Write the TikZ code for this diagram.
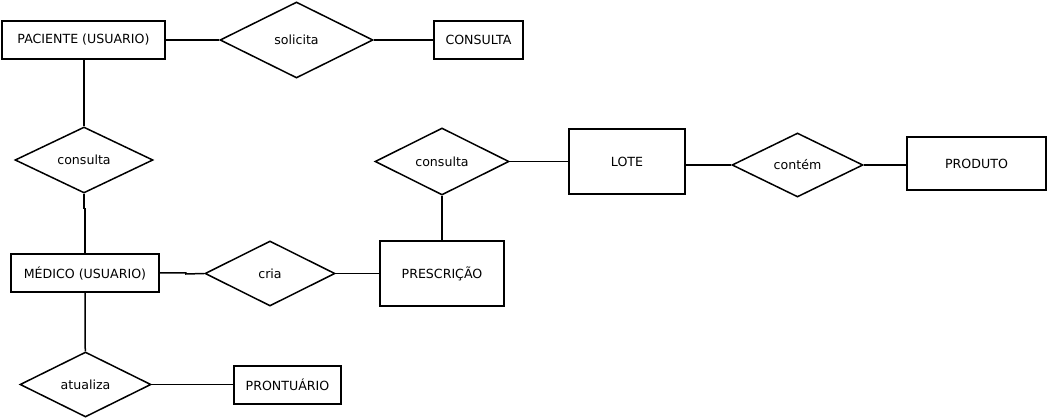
\documentclass[tikz,border=0pt]{standalone}
\usepackage{fontspec}
\setmainfont{DejaVu Sans}
\usetikzlibrary{shapes.geometric}
\tikzset{
  ent/.style={draw, line width=1.5pt, rectangle, inner sep=0pt, font=\fontsize{12.6}{15}\selectfont},
  rel/.style={draw, line width=1.5pt, diamond, inner sep=0pt, font=\fontsize{12.6}{15}\selectfont},
  conn/.style={line width=1.5pt},
}
\begin{document}
\begin{tikzpicture}[x=1pt,y=-1pt]
\useasboundingbox (0,0) rectangle (1047,419);
% entities
\node[ent, minimum width=163pt, minimum height=38pt] (pac) at (83.5,40) {PACIENTE (USUARIO)};
\node[ent, minimum width=89pt, minimum height=38pt] (cons) at (478.5,40) {CONSULTA};
\node[ent, minimum width=148pt, minimum height=38pt] (med) at (85,273) {MÉDICO (USUARIO)};
\node[ent, minimum width=124pt, minimum height=65pt] (presc) at (442,273.5) {PRESCRIÇÃO};
\node[ent, minimum width=116pt, minimum height=65pt] (lote) at (627,161.5) {LOTE};
\node[ent, minimum width=139pt, minimum height=53pt] (prod) at (976.5,163.5) {PRODUTO};
\node[ent, minimum width=107pt, minimum height=38pt] (pront) at (287.5,385) {PRONTUÁRIO};
% relationships
\node[rel, minimum width=153pt, minimum height=76pt] (sol) at (296.5,40) {solicita};
\node[rel, minimum width=138pt, minimum height=66pt] (conA) at (84,160) {consulta};
\node[rel, minimum width=134pt, minimum height=67pt] (conB) at (442,161.5) {consulta};
\node[rel, minimum width=130pt, minimum height=65pt] (cria) at (270,273.5) {cria};
\node[rel, minimum width=131pt, minimum height=64pt] (cont) at (797.5,165) {contém};
\node[rel, minimum width=131pt, minimum height=65pt] (atu) at (85.5,384.5) {atualiza};
% connectors
\draw[conn] (pac.east) -- (sol.west);
\draw[conn] (sol.east) -- (cons.west);
\draw[conn] (pac.south -| conA.north) -- (conA.north);
\draw[conn] (conA.south) -- ++(0,15) -- ++(1,0) -- (med.north);
\draw[conn] (med.east) -- ++(26,0) -- ++(0,1) -- (cria.west);
\draw[conn] (cria.east) -- (presc.west);
\draw[conn] (conB.south) -- (presc.north);
\draw[conn] (conB.east) -- (lote.west |- conB.east);
\draw[conn] (lote.east |- cont.west) -- (cont.west);
\draw[conn] (cont.east) -- (prod.west |- cont.east);
\draw[conn] (med.south) -- ++(0,53) -- (atu.north);
\draw[conn] (atu.east) -- (pront.west |- atu.east);
\end{tikzpicture}
\end{document}
